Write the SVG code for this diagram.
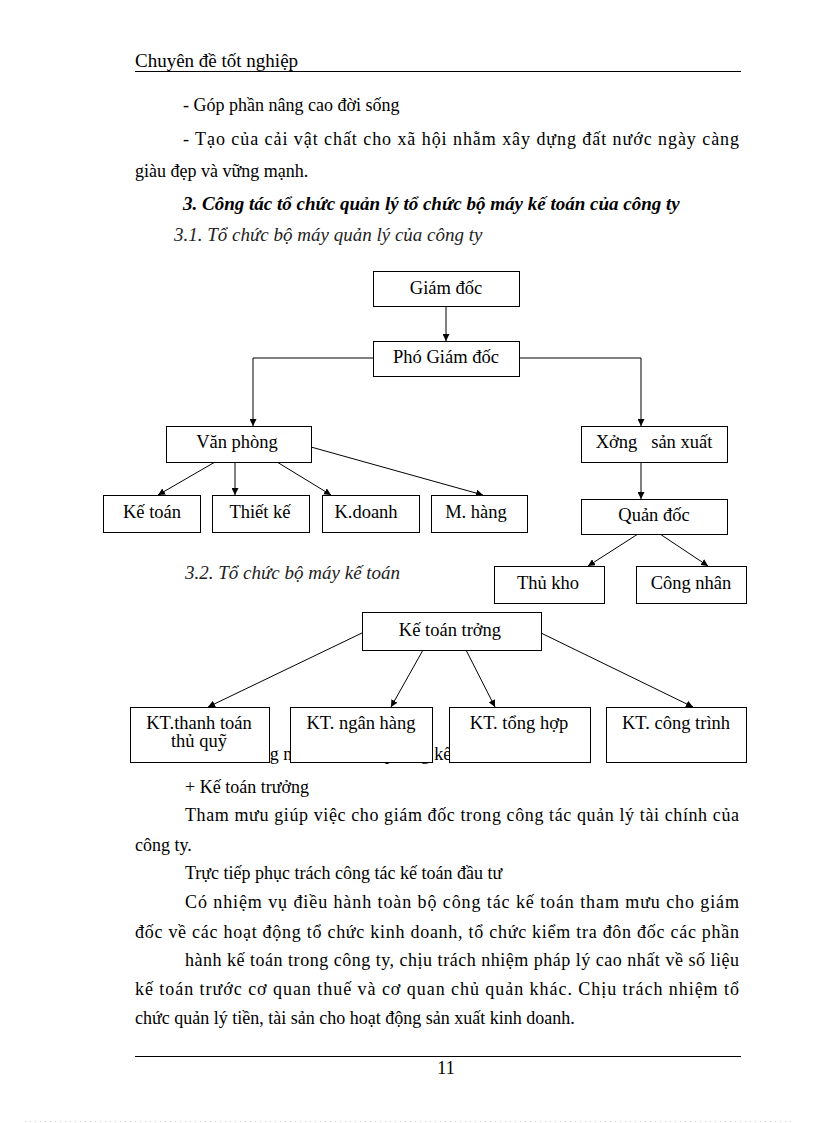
<svg xmlns="http://www.w3.org/2000/svg" width="816" height="1123" viewBox="0 0 816 1123">
<style>
text{font-family:"Liberation Serif","Times New Roman",serif;font-size:18px;fill:#000}
.h{font-size:19px}
.it{font-style:italic;fill:#222;font-size:19px}
.bi{font-style:italic;font-weight:bold;font-size:19px}
.c{text-anchor:middle}
.n{font-size:18.5px}
.box{fill:#fff;stroke:#000;stroke-width:1}
.ln{fill:none;stroke:#000;stroke-width:1}
</style>
<defs>
<marker id="ah" viewBox="0 0 10 10" refX="10" refY="5" markerWidth="7" markerHeight="7" markerUnits="userSpaceOnUse" orient="auto">
<path d="M0,0 L10,5 L0,10 z" fill="#000"/>
</marker>
</defs>
<rect width="816" height="1123" fill="#fff"/>

<!-- header -->
<text x="135" y="67" class="h">Chuyên đề tốt nghiệp</text>
<line x1="135" y1="71.5" x2="741" y2="71.5" stroke="#000" stroke-width="1"/>

<!-- body text top -->
<text x="183" y="111">- Góp phần nâng cao đời sống</text>
<text x="183" y="145" textLength="556" lengthAdjust="spacing">- Tạo của cải vật chất cho xã hội nhằm xây dựng đất nước ngày càng</text>
<text x="135" y="177">giàu  đẹp và vững mạnh.</text>
<text x="183" y="210" class="bi">3. Công tác tổ chức quản lý tổ chức bộ máy kế toán của công ty</text>
<text x="174" y="241" class="it">3.1. Tổ chức bộ máy quản lý của công ty</text>

<text x="185" y="579" class="it">3.2. Tổ chức bộ máy kế toán</text>

<!-- partially hidden line under chart 2 -->
<text x="190" y="760">- Chức năng nhiệm vụ của phòng kế toán</text>

<!-- connectors -->
<g id="connectors">
<line class="ln" x1="446" y1="306" x2="446" y2="341" marker-end="url(#ah)"/>
<polyline class="ln" points="373,358 253,358 253,426" marker-end="url(#ah)"/>
<polyline class="ln" points="519,358 641,358 641,426" marker-end="url(#ah)"/>
<line class="ln" x1="215" y1="462" x2="158" y2="495" marker-end="url(#ah)"/>
<line class="ln" x1="235" y1="462" x2="235" y2="495" marker-end="url(#ah)"/>
<line class="ln" x1="277" y1="462" x2="331" y2="495" marker-end="url(#ah)"/>
<line class="ln" x1="311" y1="447" x2="483" y2="495" marker-end="url(#ah)"/>
<line class="ln" x1="641" y1="462" x2="641" y2="499" marker-end="url(#ah)"/>
<line class="ln" x1="638" y1="534" x2="588" y2="566" marker-end="url(#ah)"/>
<line class="ln" x1="660" y1="534" x2="708" y2="566" marker-end="url(#ah)"/>
<line class="ln" x1="362" y1="633" x2="208" y2="707" marker-end="url(#ah)"/>
<line class="ln" x1="423" y1="650" x2="391" y2="707" marker-end="url(#ah)"/>
<line class="ln" x1="466" y1="650" x2="495" y2="707" marker-end="url(#ah)"/>
<line class="ln" x1="541" y1="633" x2="693" y2="707" marker-end="url(#ah)"/>
</g>

<!-- chart 1 nodes -->
<g id="giamdoc"><rect class="box" x="373.5" y="271.5" width="146" height="35"/><text class="c n" x="446" y="294">Giám đốc</text></g>
<g id="phogiamdoc"><rect class="box" x="373.5" y="341.5" width="146" height="35"/><text class="c n" x="446" y="363">Phó Giám đốc</text></g>
<g id="vanphong"><rect class="box" x="166.5" y="426.5" width="145" height="36"/><text class="c n" x="237" y="448">Văn phòng</text></g>
<g id="xongsanxuat"><rect class="box" x="581.5" y="426.5" width="146" height="36"/><text class="c n" x="654" y="448" xml:space="preserve">Xởng   sản xuất</text></g>
<g id="ketoan"><rect class="box" x="103.5" y="495.5" width="97" height="37"/><text class="c n" x="152" y="518">Kế toán</text></g>
<g id="thietke"><rect class="box" x="212.5" y="495.5" width="97" height="37"/><text class="c n" x="260" y="518">Thiết kế</text></g>
<g id="kdoanh"><rect class="box" x="322.5" y="495.5" width="97" height="37"/><text class="c n" x="366" y="518">K.doanh</text></g>
<g id="mhang"><rect class="box" x="431.5" y="495.5" width="96" height="37"/><text class="c n" x="476" y="518">M. hàng</text></g>
<g id="quandoc"><rect class="box" x="581.5" y="499.5" width="146" height="35"/><text class="c n" x="654" y="521">Quản đốc</text></g>
<g id="thukho"><rect class="box" x="494.5" y="566.5" width="110" height="37"/><text class="c n" x="548" y="589">Thủ kho</text></g>
<g id="congnhan"><rect class="box" x="636.5" y="566.5" width="110" height="37"/><text class="c n" x="691" y="589">Công nhân</text></g>

<!-- chart 2 nodes -->
<g id="ketoantruong"><rect class="box" x="362.5" y="612.5" width="179" height="38"/><text class="c n" x="450" y="636">Kế toán trởng</text></g>
<g id="ktthanhtoan"><rect class="box" x="130.5" y="707.5" width="139" height="55"/><text class="c n" x="199" y="729">KT.thanh toán</text><text class="c n" x="199" y="747">thủ quỹ</text></g>
<g id="ktnganhang"><rect class="box" x="290.5" y="707.5" width="142" height="55"/><text class="c n" x="361" y="729">KT. ngân hàng</text></g>
<g id="kttonghop"><rect class="box" x="449.5" y="707.5" width="141" height="55"/><text class="c n" x="519" y="729">KT. tổng hợp</text></g>
<g id="ktcongtrinh"><rect class="box" x="606.5" y="707.5" width="140" height="55"/><text class="c n" x="676" y="729">KT. công trình</text></g>

<!-- body text bottom -->
<text x="185" y="793">+ Kế toán trưởng</text>
<text x="185" y="821" textLength="554" lengthAdjust="spacing">Tham mưu giúp việc cho giám đốc trong công tác quản lý tài chính của</text>
<text x="135" y="851">công ty.</text>
<text x="185" y="879">Trực tiếp phục trách công tác kế toán đầu tư</text>
<text x="185" y="908" textLength="554" lengthAdjust="spacing">Có nhiệm vụ điều hành toàn bộ công tác kế toán tham mưu cho giám</text>
<text x="135" y="938" textLength="604" lengthAdjust="spacing">đốc về các hoạt động tổ chức kinh  doanh, tổ chức kiểm tra đôn đốc các phần</text>
<text x="185" y="966" textLength="554" lengthAdjust="spacing">hành kế toán trong công ty, chịu trách nhiệm pháp lý cao nhất về số liệu</text>
<text x="135" y="995" textLength="604" lengthAdjust="spacing">kế toán trước cơ quan thuế và cơ quan chủ quản khác. Chịu trách nhiệm tổ</text>
<text x="135" y="1024">chức quản lý tiền, tài sản cho hoạt động sản xuất kinh  doanh.</text>

<!-- footer -->
<line x1="135" y1="1056.5" x2="741" y2="1056.5" stroke="#000" stroke-width="1"/>
<text class="c" x="446" y="1074">11</text>
<line x1="25" y1="1121.5" x2="795" y2="1121.5" stroke="#ccc" stroke-width="1" stroke-dasharray="1,4"/>
</svg>
